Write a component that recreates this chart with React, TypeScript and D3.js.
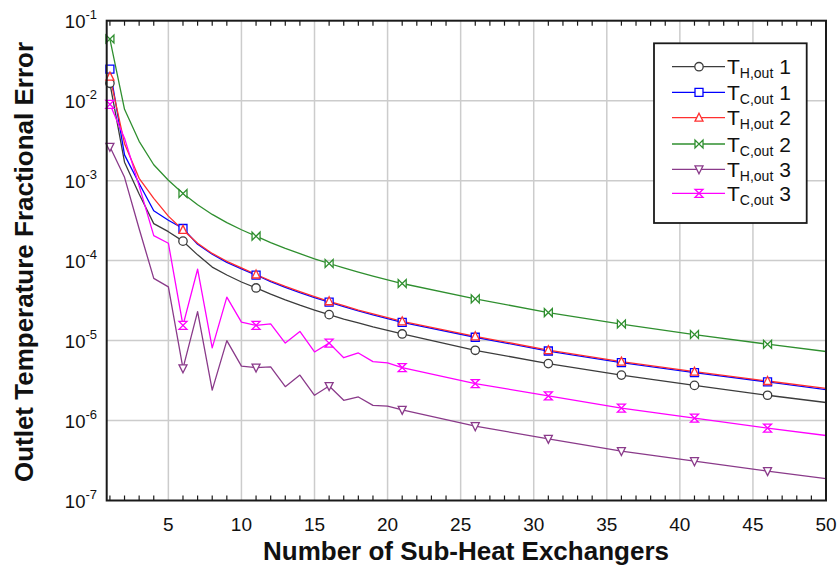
import React from 'react';
import * as d3 from 'd3';

// Number of sub-heat exchangers at which values were read
const N = [1, 2, 3, 4, 5, 6, 7, 8, 9, 10, 11, 12, 13, 14, 15, 16, 17, 18, 19, 20, 21, 26, 31, 36, 41, 46, 50];

const TH_OUT_1 = [0.0165, 0.0017, 0.00068, 0.00029, 0.00023, 0.000175, 0.000118, 0.000083, 0.000066, 0.000054, 0.0000455, 0.0000381, 0.0000323, 0.0000277, 0.0000241, 0.0000211, 0.0000186, 0.0000166, 0.0000148, 0.0000134, 0.0000121, 7.56e-6, 5.15e-6, 3.7e-6, 2.75e-6, 2.07e-6, 1.68e-6];
const TC_OUT_1 = [0.0248, 0.0021, 0.00092, 0.00042, 0.00032, 0.000252, 0.00016, 0.00012, 0.000095, 0.000079, 0.000066, 0.0000545, 0.0000462, 0.0000397, 0.0000345, 0.0000302, 0.0000266, 0.0000235, 0.000021, 0.0000188, 0.0000169, 1.1e-5, 7.4e-6, 5.3e-6, 3.97e-6, 3.04e-6, 2.43e-6];
const TH_OUT_2 = [0.020, 0.0029, 0.00107, 0.0006, 0.00036, 0.000242, 0.000165, 0.000123, 0.000098, 0.000081, 0.000067, 0.000056, 0.0000475, 0.0000408, 0.0000354, 0.000031, 0.0000273, 0.0000241, 0.0000215, 0.0000193, 0.0000174, 1.13e-5, 7.6e-6, 5.45e-6, 4.08e-6, 3.12e-6, 2.52e-6];
const TC_OUT_2 = [0.059, 0.0078, 0.0031, 0.00158, 0.00101, 0.00069, 0.0005, 0.000378, 0.000298, 0.000243, 0.000202, 0.000168, 0.000142, 0.000122, 0.000105, 0.000092, 0.0000809, 0.0000717, 0.0000639, 0.0000573, 0.0000517, 3.32e-5, 2.24e-5, 1.61e-5, 1.19e-5, 9.0e-6, 7.3e-6];
const TH_OUT_3 = [0.00265, 0.0011, 0.00025, 0.00006, 0.000047, 4.5e-6, 0.000023, 2.4e-6, 0.00001, 4.8e-6, 4.6e-6, 4.7e-6, 2.65e-6, 3.7e-6, 2.07e-6, 2.7e-6, 1.79e-6, 1.97e-6, 1.55e-6, 1.51e-6, 1.36e-6, 8.5e-7, 5.9e-7, 4.15e-7, 3.1e-7, 2.33e-7, 1.88e-7];
const TC_OUT_3 = [0.009, 0.0034, 0.00086, 0.000205, 0.000165, 0.0000155, 0.000078, 8.1e-6, 0.000035, 0.000017, 0.0000155, 0.0000162, 9.3e-6, 0.000013, 7.2e-6, 9.3e-6, 6.1e-6, 7.0e-6, 5.45e-6, 5.25e-6, 4.6e-6, 2.9e-6, 2.03e-6, 1.43e-6, 1.07e-6, 8.05e-7, 6.5e-7];

const MARKER_N = [1, 6, 11, 16, 21, 26, 31, 36, 41, 46];
const X_TICKS = [5, 10, 15, 20, 25, 30, 35, 40, 45, 50];
const Y_EXPONENTS = [-1, -2, -3, -4, -5, -6, -7];
const SERIES_SUB = ['H,out', 'C,out', 'H,out', 'C,out', 'H,out', 'C,out'];
const SERIES_NUM = ['1', '1', '2', '2', '3', '3'];
const SERIES_VALUES = [TH_OUT_1, TC_OUT_1, TH_OUT_2, TC_OUT_2, TH_OUT_3, TC_OUT_3];
const SERIES_COLORS = ['#3c3c3c', '#0000ff', '#ff3030', '#2f8f2f', '#8a3a8a', '#ff00ff'];
const SERIES_MARKERS = ['circle', 'square', 'triUp', 'bowtie', 'triDown', 'hourglass'];

const W = 840, H = 567;
const L = 106.7, R = 826, T = 20.7, B = 500.5;

function markerPath(kind: string): string {
  const s = 4;
  switch (kind) {
    case 'square': return `M${-s},${-s}H${s}V${s}H${-s}Z`;
    case 'triUp': return `M0,${-s - 0.5}L${s},${s - 0.5}H${-s}Z`;
    case 'triDown': return `M0,${s + 0.5}L${s},${-s + 0.5}H${-s}Z`;
    case 'bowtie': return `M${-s},${-s}V${s}L${s},${-s}V${s}Z`;
    case 'hourglass': return `M${-s},${-s}H${s}L${-s},${s}H${s}Z`;
    default: return '';
  }
}

function Marker({ kind, color, x, y }: { kind: string; color: string; x: number; y: number }) {
  if (kind === 'circle') {
    return <circle cx={x} cy={y} r={4.2} fill="#fff" stroke={color} strokeWidth={1.3} />;
  }
  return <path d={markerPath(kind)} transform={`translate(${x},${y})`} fill="#fff" stroke={color} strokeWidth={1.3} />;
}

export default function App() {
  const x = d3.scaleLinear().domain([0.78, 50]).range([L, R]);
  const y = d3.scaleLog().domain([1e-7, 1e-1]).range([B, T]);
  const line = d3.line<[number, number]>().x(d => x(d[0])).y(d => y(d[1]));
  const font = "'Liberation Sans', Arial, sans-serif";
  const minorTicks = d3.range(1, 50).filter(v => v % 5 !== 0);
  const legendRowY = [66.7, 92.3, 117.7, 144, 169.3, 193.3];

  return (
    <svg width={W} height={H} style={{ position: 'absolute', left: 0, top: 0, background: '#fff' }} fontFamily={font}>
      <defs>
        <clipPath id="plotclip"><rect x={L} y={T} width={R - L} height={B - T} /></clipPath>
      </defs>
      <rect x={0} y={0} width={W} height={H} fill="#fff" />
      {/* grid */}
      {X_TICKS.filter(v => v < 50).map(v => (
        <line key={'gx' + v} x1={x(v)} x2={x(v)} y1={T} y2={B} stroke="#cccccc" strokeWidth={1.5} />
      ))}
      {Y_EXPONENTS.filter(e => e > -7 && e < -1).map(e => (
        <line key={'gy' + e} x1={L} x2={R} y1={y(Math.pow(10, e))} y2={y(Math.pow(10, e))} stroke="#cccccc" strokeWidth={1.5} />
      ))}
      {/* series lines */}
      <g clipPath="url(#plotclip)">
        {SERIES_VALUES.map((vals, i) => (
          <path key={'l' + i} d={line(N.map((n, j) => [n, vals[j]] as [number, number])) || ''} fill="none" stroke={SERIES_COLORS[i]} strokeWidth={1.3} strokeLinejoin="round" />
        ))}
      </g>
      {/* markers */}
      {SERIES_VALUES.map((vals, i) => (
        <g key={'m' + i}>
          {MARKER_N.map(n => {
            const j = N.indexOf(n);
            return <Marker key={n} kind={SERIES_MARKERS[i]} color={SERIES_COLORS[i]} x={x(n)} y={y(vals[j])} />;
          })}
        </g>
      ))}
      {/* frame */}
      <rect x={L} y={T} width={R - L} height={B - T} fill="none" stroke="#1a1a1a" strokeWidth={2} />
      {minorTicks.map(v => (
        <g key={'t' + v}>
          <line x1={x(v)} x2={x(v)} y1={B} y2={B - 5} stroke="#1a1a1a" strokeWidth={1.2} />
          <line x1={x(v)} x2={x(v)} y1={T} y2={T + 5} stroke="#1a1a1a" strokeWidth={1.2} />
        </g>
      ))}
      {/* x tick labels */}
      {X_TICKS.map(v => (
        <text key={'xl' + v} x={x(v)} y={531} textAnchor="middle" fontSize={19} fill="#111">{v}</text>
      ))}
      {/* y tick labels */}
      {Y_EXPONENTS.map(e => (
        <text key={'yl' + e} x={97} y={y(Math.pow(10, e)) + 7} textAnchor="end" fontSize={18.5} fill="#111">
          <tspan>10</tspan>
          <tspan dy={-8.5} fontSize={13}>{e}</tspan>
        </text>
      ))}
      {/* axis titles */}
      <text x={466} y={560} textAnchor="middle" fontSize={26} fontWeight="bold" fill="#111">Number of Sub-Heat Exchangers</text>
      <text transform="translate(33,262) rotate(-90)" textAnchor="middle" fontSize={26} fontWeight="bold" fill="#111">Outlet Temperature Fractional Error</text>
      {/* legend */}
      <rect x={654} y={43.3} width={152.7} height={179.7} fill="#fff" stroke="#1a1a1a" strokeWidth={1.8} />
      {SERIES_SUB.map((sub, i) => {
        const ly = legendRowY[i];
        return (
          <g key={'lg' + i}>
            <line x1={672} x2={725} y1={ly} y2={ly} stroke={SERIES_COLORS[i]} strokeWidth={1.3} />
            <Marker kind={SERIES_MARKERS[i]} color={SERIES_COLORS[i]} x={699} y={ly} />
            <text x={727} y={ly + 7.5} fontSize={21} fill="#111">
              <tspan>T</tspan>
              <tspan dy={4} fontSize={14}>{sub}</tspan>
              <tspan dy={-4} fontSize={21}>{' ' + SERIES_NUM[i]}</tspan>
            </text>
          </g>
        );
      })}
    </svg>
  );
}
